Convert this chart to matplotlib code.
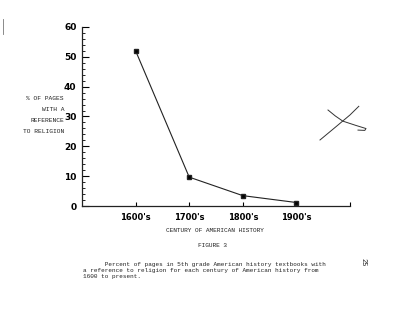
import matplotlib.pyplot as plt
import numpy as np

# Data
centuries = ["1600's", "1700's", "1800's", "1900's"]
percent_pages = [52, 9.7, 3.5, 1.2]
y_ticks = [0, 10, 20, 30, 40, 50, 60]
ylabel_lines = ["% OF PAGES", "WITH A", "REFERENCE", "TO RELIGION"]

fig = plt.figure(figsize=(4.0, 3.09), dpi=100)
ax = fig.add_axes([0.205, 0.333, 0.67, 0.58])

x = np.arange(len(centuries))
ax.plot(x, percent_pages, color='#222222', linewidth=0.8, marker='s',
        markersize=2.5, markerfacecolor='black')

ax.set_xlim(-1, 4)
ax.set_ylim(0, 60)

# Axes styling like the typed figure
for side in ['top', 'right']:
    ax.spines[side].set_visible(False)
for side in ['left', 'bottom']:
    ax.spines[side].set_linewidth(0.9)
    ax.spines[side].set_color('#222222')

ax.set_yticks(y_ticks)
ax.set_yticks(np.arange(0, 61, 2), minor=True)
ax.tick_params(axis='y', which='major', direction='in', length=5, width=0.8,
               labelsize=6.5, pad=4)
ax.tick_params(axis='y', which='minor', direction='in', length=2.5, width=0.6)
for lbl in ax.get_yticklabels():
    lbl.set_fontweight('bold')

ax.set_xticks(list(x) + [4])
ax.set_xticklabels(centuries + [''])
ax.tick_params(axis='x', direction='in', length=3, width=0.8, labelsize=6, pad=5)
for lbl in ax.get_xticklabels():
    lbl.set_fontweight('bold')

mono = 'Liberation Mono'
ink = '#222222'
for i, line in enumerate(ylabel_lines):
    fig.text(0.16, 0.68 - i * 0.035, line, ha='right', va='center',
             fontsize=4.5, family=mono, color=ink)

fig.text(0.537, 0.255, "CENTURY OF AMERICAN HISTORY", ha='center', va='center',
         fontsize=4.45, family=mono, color=ink)
fig.text(0.532, 0.207, "FIGURE 3", ha='center', va='center',
         fontsize=4.45, family=mono, color=ink)
fig.text(0.208, 0.125,
         "      Percent of pages in 5th grade American history textbooks with\n"
         "a reference to religion for each century of American history from\n"
         "1600 to present.",
         ha='left', va='center', fontsize=4.35, family=mono, color=ink,
         linespacing=1.2)
fig.text(0.907, 0.152, "25", ha='center', va='center', rotation=-90,
         fontsize=5, family=mono, color=ink)

# Hand-drawn mark on the page and scan edge
fig.add_artist(plt.Line2D([0.80, 0.84, 0.875, 0.897], [0.547, 0.59, 0.628, 0.656],
                          color='#333333', linewidth=0.7))
fig.add_artist(plt.Line2D([0.82, 0.838, 0.857, 0.89, 0.915, 0.912, 0.895],
                          [0.644, 0.625, 0.608, 0.594, 0.584, 0.578, 0.579],
                          color='#333333', linewidth=0.7))
fig.add_artist(plt.Line2D([0.008, 0.008], [0.89, 0.94], color='#777777', linewidth=0.6))

plt.savefig('out.png', dpi=100, facecolor='white')
plt.close()
